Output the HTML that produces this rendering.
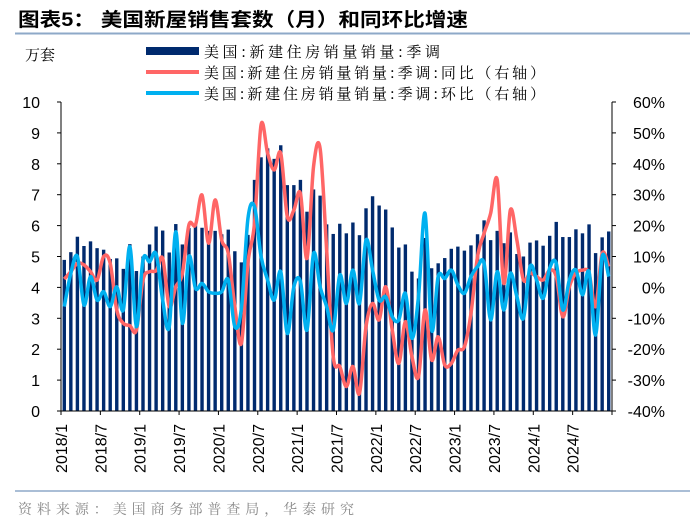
<!DOCTYPE html>
<html><head><meta charset="utf-8"><style>
body{margin:0;background:#fff;}
svg{display:block;}
</style></head><body>
<svg id="c" width="700" height="529" xmlns="http://www.w3.org/2000/svg">
<text x="18" y="26" textLength="450" lengthAdjust="spacingAndGlyphs" font-family="'Liberation Sans','Noto Sans CJK SC',sans-serif" font-weight="bold" font-size="19" fill="#000">图表5：  美国新屋销售套数（月）和同环比增速</text>
<line x1="15" y1="33.5" x2="690" y2="33.5" stroke="#8EA9C8" stroke-width="2"/>
<text x="25" y="60" font-family="'Noto Serif CJK SC',serif" font-size="15" fill="#000">万套</text>
<g font-family="'Noto Serif CJK SC',serif" font-size="15" fill="#000">
<g><rect x="146" y="47" width="53" height="8" fill="#002A6E"/><text x="204" y="57" textLength="236" lengthAdjust="spacing">美国:新建住房销量销量:季调</text></g>
<g><line x1="146" y1="72" x2="199" y2="72" stroke="#FF6666" stroke-width="4"/><text x="204" y="78" textLength="341" lengthAdjust="spacing">美国:新建住房销量销量:季调:同比（右轴）</text></g>
<g><line x1="146" y1="93" x2="199" y2="93" stroke="#00B0F0" stroke-width="4"/><text x="204" y="99" textLength="341" lengthAdjust="spacing">美国:新建住房销量销量:季调:环比（右轴）</text></g>
</g>
<g id="plot"></g>
<line x1="15" y1="491" x2="690" y2="491" stroke="#8EA9C8" stroke-width="1.5"/>
<text x="18" y="514" textLength="336" lengthAdjust="spacing" font-family="'Noto Serif CJK SC',serif" font-size="14" fill="#888">资料来源：美国商务部普查局，华泰研究</text>
</svg>
<script>
const sales = [4.89,5.14,5.64,5.34,5.49,5.27,5.22,4.92,4.94,4.60,5.4,4.53,
5.0,5.39,5.97,5.84,5.13,6.05,5.39,5.92,6.01,5.93,5.83,5.83,
5.72,5.87,5.17,4.81,5.7,7.48,8.21,8.5,8.16,8.6,7.31,7.31,
7.48,6.45,7.17,6.97,6.04,5.73,6.06,5.75,6.10,5.69,6.56,6.95,
6.65,6.52,5.94,5.29,5.39,4.51,4.29,5.6,4.62,4.78,4.95,5.25,
5.32,5.19,5.36,5.72,6.17,5.53,5.83,5.43,5.78,5.08,5.0,5.45,
5.52,5.35,5.67,6.12,5.63,5.63,5.88,5.75,6.04,5.11,5.62,5.81];
const yoy = [2.7,5.1,7.8,7.3,5.1,2.4,10,7.8,-7.3,-11.6,-12.4,-13.8,
2.4,5.1,5.4,9.4,-6.2,0.2,4.5,20.2,20.2,29.9,14.3,28.3,
15.3,11,-6.2,-18.1,8,20.7,52.6,43.4,38,43.4,22.9,25,
30.4,9.4,39.1,45,12.1,-22.4,-25.6,-32.1,-25.6,-34.3,-12.7,-5.2,
-10.5,0.2,-13.8,-24.6,-11.1,-22.4,-28.9,-7.3,-23.5,-16,-25.1,-24.6,
-20.3,-19.2,-8.4,10,17.5,24,34.8,1.3,25,15.3,2.4,4.6,
3.5,2.4,5.6,3.5,-9.5,0.2,4.6,5.6,4.6,-6.2,11,6.7];
const mom = [-6.2,4.6,10,-5.7,3.5,-4.1,-1.4,-6.2,0.2,-7.3,13.2,-12.7,
8.9,8.3,10.8,-4.1,-12.7,18,-11.6,10,-0.3,1.3,-1.4,-1.9,
-1.4,2.4,-12.7,-6.8,22.3,26.1,10,2.4,-4.1,5.1,-14.9,0.2,
1.9,-13.8,11,0.2,-6.2,-13.8,4,-5.2,5.6,-5.2,15.3,5.6,
-4.1,-3,-9.5,-10.5,-1.9,-16.5,-3,24,-13.8,3.5,2.9,5.6,
0.8,-1.9,3.5,6.7,7.8,-10.5,5.1,-7.3,4.6,-3,-10,6.7,
2.4,-3.5,6.2,7.8,-7.3,2.4,5.6,-2.4,5.1,-15.4,10,3.5];
const leftTicks = [0,1,2,3,4,5,6,7,8,9,10];
const rightTicks = [-40,-30,-20,-10,0,10,20,30,40,50,60];
const xLabels = ["2018/1","2018/7","2019/1","2019/7","2020/1","2020/7","2021/1","2021/7","2022/1","2022/7","2023/1","2023/7","2024/1","2024/7"];

const X0=61, X1=612, Y0=411, Y1=102;
const n = sales.length;
const step=(X1-X0)/n;
const xc = i => X0 + step*(i+0.5);
const yL = v => Y0 - (v/10)*(Y0-Y1);
const yR = v => Y0 - ((v+40)/100)*(Y0-Y1);
const NS="http://www.w3.org/2000/svg";
const plot=document.getElementById('plot');
function mk(tag, attrs){const e=document.createElementNS(NS,tag);for(const k in attrs)e.setAttribute(k,attrs[k]);plot.appendChild(e);return e;}

sales.forEach((v,i)=>{
  const b=mk('rect',{x:xc(i)-1.7,y:yL(v),width:3.4,height:Y0-yL(v),fill:'#002A6E'});
  
  
});
function smooth(vals){
  const p=vals.map((v,i)=>[xc(i),yR(v)]);
  let d=`M${p[0][0]},${p[0][1]}`;
  for(let i=0;i<p.length-1;i++){
    const a=p[i-1]||p[i], b=p[i], c=p[i+1], e=p[i+2]||c;
    const c1=[b[0]+(c[0]-a[0])/6, b[1]+(c[1]-a[1])/6];
    const c2=[c[0]-(e[0]-b[0])/6, c[1]-(e[1]-b[1])/6];
    d+=` C${c1[0]},${c1[1]} ${c2[0]},${c2[1]} ${c[0]},${c[1]}`;
  }
  return d;
}
const ly=mk('path',{d:smooth(yoy),fill:'none',stroke:'#FF6666','stroke-width':3.5,'stroke-linejoin':'round'});


const lm=mk('path',{d:smooth(mom),fill:'none',stroke:'#00B0F0','stroke-width':3.5,'stroke-linejoin':'round'});



const la=mk('line',{x1:X0,y1:Y1,x2:X0,y2:Y0,stroke:'#000','stroke-width':1});


const ra=mk('line',{x1:X1,y1:Y1,x2:X1,y2:Y0,stroke:'#000','stroke-width':1});


const xa=mk('line',{x1:X0,y1:Y0,x2:X1,y2:Y0,stroke:'#000','stroke-width':1});


leftTicks.forEach(v=>{
  mk('line',{x1:X0-4,y1:yL(v),x2:X0,y2:yL(v),stroke:'#000'});
  const t=mk('text',{x:40,y:yL(v)+6,'text-anchor':'end','font-family':'Liberation Sans,sans-serif','font-size':16,fill:'#000'});
  t.textContent=v;
  
  
});
rightTicks.forEach(v=>{
  mk('line',{x1:X1,y1:yR(v),x2:X1+4,y2:yR(v),stroke:'#000'});
  const t=mk('text',{x:665,y:yR(v)+6,'text-anchor':'end','font-family':'Liberation Sans,sans-serif','font-size':16,fill:'#000'});
  t.textContent=v+'%';
  
  
});
for(let i=0;i<=n;i+=6){
  const x=X0+step*i;
  mk('line',{x1:x,y1:Y0,x2:x,y2:Y0+4,stroke:'#000'});
}
xLabels.forEach((s,k)=>{
  const x=X0+step*6*k;
  const t=mk('text',{x:0,y:0,transform:`translate(${x+6},${Y0+13}) rotate(-90)`,'text-anchor':'end','font-family':'Liberation Sans,sans-serif','font-size':16,fill:'#000'});
  t.textContent=s;
  
  
});
</script>
</body></html>
